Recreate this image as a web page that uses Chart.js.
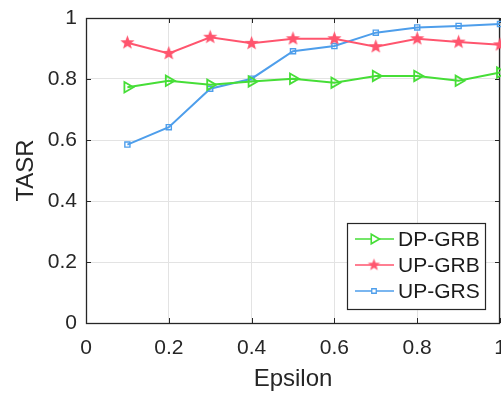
<!DOCTYPE html>
<html>
<head>
<meta charset="utf-8">
<script src="https://cdn.jsdelivr.net/npm/chart.js@4/dist/chart.umd.min.js"></script>
<style>
html,body{margin:0;padding:0;background:#fff;overflow:hidden;}
#wrap{width:501px;height:394px;}
</style>
</head>
<body>
<div id="wrap"><canvas id="c" width="501" height="394"></canvas></div>
<script>
const epsilon = [0.1,0.2,0.3,0.4,0.5,0.6,0.7,0.8,0.9,1.0];
const dpGRB = [0.773,0.794,0.781,0.792,0.801,0.788,0.810,0.810,0.794,0.821];
const upGRB = [0.919,0.884,0.937,0.917,0.932,0.932,0.906,0.932,0.921,0.912];
const upGRS = [0.585,0.642,0.768,0.801,0.891,0.908,0.952,0.969,0.974,0.980];
const xTicks = [0,0.2,0.4,0.6,0.8,1];
const yTicks = [0,0.2,0.4,0.6,0.8,1];
const seriesNames = ['DP-GRB','UP-GRB','UP-GRS'];

const GREEN = 'rgb(70,222,55)';
const RED = 'rgb(255,85,110)';
const BLUE = 'rgb(78,158,235)';
const FONT = '"Liberation Sans", Arial, Helvetica, sans-serif';

function makeStar(r, color){
  const s = Math.ceil(r*2+2);
  const cv = document.createElement('canvas');
  cv.width = s; cv.height = s;
  const g = cv.getContext('2d');
  g.fillStyle = color;
  g.beginPath();
  for(let i=0;i<10;i++){
    const rr = i%2===0 ? r : r*0.42;
    const a = -Math.PI/2 + i*Math.PI/5;
    const px = s/2 + rr*Math.cos(a), py = s/2 + rr*Math.sin(a);
    if(i===0) g.moveTo(px,py); else g.lineTo(px,py);
  }
  g.closePath();
  g.fill();
  return cv;
}
const starBig = makeStar(7.5, RED);
const starSmall = makeStar(6.5, RED);

function pts(ys){ return epsilon.map((x,i)=>({x:x,y:ys[i]})); }

const datasets = [
  {label:seriesNames[0], data:pts(dpGRB), borderColor:GREEN, backgroundColor:'rgba(255,255,255,0)', borderWidth:2,
   pointStyle:'triangle', pointRotation:90, pointRadius:6, pointBorderWidth:1.8, pointBorderColor:GREEN, pointBackgroundColor:'rgba(255,255,255,0)', clip:false},
  {label:seriesNames[1], data:pts(upGRB), borderColor:RED, backgroundColor:RED, borderWidth:2,
   pointStyle:starBig, pointRadius:7, clip:false},
  {label:seriesNames[2], data:pts(upGRS), borderColor:BLUE, backgroundColor:'rgba(255,255,255,0)', borderWidth:2,
   pointStyle:'rect', pointRadius:3.6, pointBorderWidth:1.4, pointBorderColor:BLUE, pointBackgroundColor:'rgba(255,255,255,0)', clip:false}
];
const legendMarkers = [
  {pointStyle:'triangle', rotation:90, radius:5.5, borderWidth:1.6, color:GREEN, fill:false},
  {pointStyle:starSmall, rotation:0, radius:6, borderWidth:1, color:RED, fill:true},
  {pointStyle:'rect', rotation:0, radius:3.2, borderWidth:1.3, color:BLUE, fill:false}
];

const frame = {
  id:'frame',
  beforeDatasetsDraw(chart){
    const {ctx, chartArea:a, scales} = chart;
    ctx.save();
    ctx.strokeStyle = '#262626';
    ctx.lineWidth = 1;
    const tl = 5;
    ctx.beginPath();
    xTicks.forEach(v=>{
      const px = Math.round(scales.x.getPixelForValue(v))+0.5;
      ctx.moveTo(px, a.bottom); ctx.lineTo(px, a.bottom-tl);
      ctx.moveTo(px, a.top); ctx.lineTo(px, a.top+tl);
    });
    yTicks.forEach(v=>{
      const py = Math.round(scales.y.getPixelForValue(v))+0.5;
      ctx.moveTo(a.left, py); ctx.lineTo(a.left+tl, py);
      ctx.moveTo(a.right, py); ctx.lineTo(a.right-tl, py);
    });
    ctx.stroke();
    ctx.lineWidth = 1.3;
    ctx.strokeRect(Math.round(a.left)+0.5, Math.round(a.top)+0.5, Math.round(a.right-a.left)-1, Math.round(a.bottom-a.top));
    ctx.restore();
  },
  afterDraw(chart){
    const ctx = chart.ctx;
    const bx = 347, by = 223, bw = 138, bh = 86;
    ctx.save();
    ctx.fillStyle = '#fff';
    ctx.fillRect(bx, by, bw, bh);
    ctx.strokeStyle = '#262626';
    ctx.lineWidth = 1.2;
    ctx.strokeRect(bx+0.5, by+0.5, bw, bh);
    const rows = [239, 265, 291];
    chart.data.datasets.forEach((ds,i)=>{
      const y = rows[i];
      ctx.strokeStyle = ds.borderColor;
      ctx.lineWidth = 1.6;
      ctx.beginPath(); ctx.moveTo(355, y); ctx.lineTo(394, y); ctx.stroke();
      const m = legendMarkers[i];
      ctx.strokeStyle = m.color;
      ctx.fillStyle = m.fill ? m.color : '#fff';
      ctx.lineWidth = m.borderWidth;
      Chart.helpers.drawPoint(ctx, {pointStyle:m.pointStyle, rotation:m.rotation, radius:m.radius, borderWidth:m.borderWidth}, 374, y);
      ctx.fillStyle = '#1a1a1a';
      ctx.font = '21px ' + FONT;
      ctx.textAlign = 'left';
      ctx.textBaseline = 'middle';
      ctx.fillText(ds.label, 398, y+1);
    });
    ctx.restore();
  }
};

new Chart(document.getElementById('c'), {
  type:'line',
  data:{datasets:datasets},
  options:{
    responsive:false,
    animation:false,
    devicePixelRatio:1,
    layout:{autoPadding:false, padding:{left:0,right:1,top:18,bottom:0}},
    plugins:{legend:{display:false}, tooltip:{enabled:false}},
    scales:{
      x:{
        type:'linear', min:0, max:1,
        afterBuildTicks(s){ s.ticks = xTicks.map(v=>({value:v})); },
        afterFit(s){ s.height = 71; s.paddingLeft = 0; s.paddingRight = 0; },
        ticks:{ callback:v=>String(+v.toFixed(1)), color:'#262626', font:{family:FONT, size:21}, padding:13, maxRotation:0, autoSkip:false},
        grid:{color:'#e3e3e3', lineWidth:1, drawTicks:false},
        border:{display:false},
        title:{display:true, text:'Epsilon', color:'#262626', font:{family:FONT, size:24}, padding:{top:0,bottom:0}}
      },
      y:{
        type:'linear', min:0, max:1,
        afterBuildTicks(s){ s.ticks = yTicks.map(v=>({value:v})); },
        afterFit(s){ s.width = 86; s.paddingTop = 0; s.paddingBottom = 0; },
        ticks:{ callback:v=>String(+v.toFixed(1)), color:'#262626', font:{family:FONT, size:21}, padding:9, autoSkip:false},
        grid:{color:'#e3e3e3', lineWidth:1, drawTicks:false},
        border:{display:false},
        title:{display:true, text:'TASR', color:'#262626', font:{family:FONT, size:24}, padding:{top:12,bottom:0}}
      }
    }
  },
  plugins:[frame]
});
</script>
</body>
</html>
